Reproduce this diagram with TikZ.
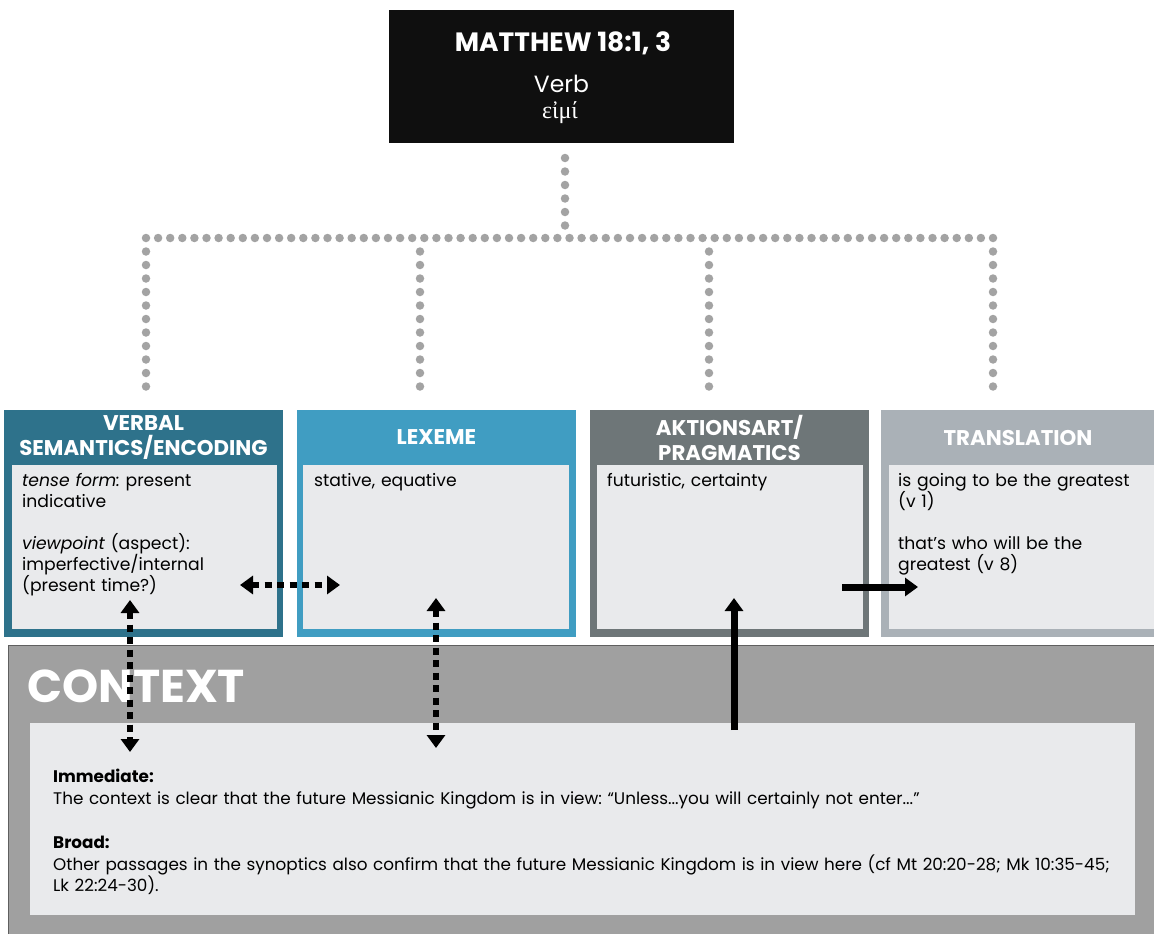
\documentclass[tikz,border=0pt]{standalone}
\usepackage{fontspec}
\setmainfont{Poppins}
\newfontfamily\greekfont{Liberation Serif}
\usetikzlibrary{arrows.meta}
\frenchspacing

\definecolor{semcol}{RGB}{46,114,139}
\definecolor{lexcol}{RGB}{64,157,194}
\definecolor{aktcol}{RGB}{110,118,120}
\definecolor{trncol}{RGB}{170,177,183}
\definecolor{panel}{RGB}{233,234,236}
\definecolor{ctxcol}{RGB}{160,160,160}
\definecolor{ctxedge}{RGB}{95,95,95}
\definecolor{topcol}{RGB}{15,15,15}
\definecolor{treecol}{RGB}{163,163,163}

\tikzset{
  outerbox/.style={anchor=north west, inner sep=0pt, minimum height=227pt},
  innerbox/.style={anchor=north west, inner sep=0pt, fill=panel, minimum height=164pt},
  headtxt/.style={text=white, font=\fontsize{21.3}{25}\selectfont\bfseries, align=center, inner sep=0pt},
  bodytxt/.style={anchor=north west, inner sep=0pt, align=left, font=\fontsize{17.2}{21}\selectfont},
  treevert/.style={draw=treecol, line width=8.5pt, line cap=round, dash pattern=on 0pt off 13.5pt},
  treehorz/.style={draw=treecol, line width=8.5pt, line cap=round, dash pattern=on 0pt off 12.1pt},
  dotarrow/.style={draw=black, line width=6.5pt, dash pattern=on 7pt off 5.5pt,
    {Triangle[width=18pt,length=13pt]}-{Triangle[width=18pt,length=13pt]}},
  solidarrow/.style={draw=black, line width=7pt, -{Triangle[width=18pt,length=13pt]}},
}

\begin{document}
\begin{tikzpicture}[x=1pt,y=-1pt]
\useasboundingbox (0,0) rectangle (1154,934);

% title block
\node[fill=topcol, anchor=north west, minimum width=345pt, minimum height=133pt, inner sep=0pt] (top) at (389,10) {};
\node[text=white, font=\fontsize{26.5}{30}\selectfont\bfseries, inner sep=0pt] (ttl) at (563,43) {MATTHEW 18:1, 3};
\node[text=white, font=\fontsize{23.5}{26}\selectfont, inner sep=0pt] (vrb) at (561.5,84) {Verb};
\node[text=white, font=\fontsize{24}{26}\selectfont\greekfont, inner sep=0pt] (grk) at (560,113) {εἰμί};

% the four category boxes
\node[outerbox, fill=semcol, minimum width=279pt] (b1) at (4,410) {};
\node[outerbox, fill=lexcol, minimum width=279pt] (b2) at (297,410) {};
\node[outerbox, fill=aktcol, minimum width=279pt] (b3) at (590,410) {};
\node[outerbox, fill=trncol, minimum width=280pt] (b4) at (881,410) {};

\node[innerbox, minimum width=265pt] (p1) at (12,465) {};
\node[innerbox, minimum width=266pt] (p2) at (303,465) {};
\node[innerbox, minimum width=266pt] (p3) at (597,465) {};
\node[innerbox, minimum width=270pt] (p4) at (889,465) {};

\node[headtxt] (h1) at (143.5,437.5) {VERBAL\\SEMANTICS/ENCODING};
\node[headtxt] (h2) at (436.5,437.5) {LEXEME};
\node[headtxt] (h3) at (729.5,437.5) {AKTIONSART/\\PRAGMATICS};
\node[headtxt] (h4) at (1018,437.5) {TRANSLATION};

\node[bodytxt, text width=255pt] (t1) at (22,473)
  {\textit{tense form:} present\\indicative\\[21pt]\textit{viewpoint} (aspect):\\imperfective/internal\\(present time?)};
\node[bodytxt, text width=255pt] (t2) at (314,473) {stative, equative};
\node[bodytxt, text width=255pt] (t3) at (607,473) {futuristic, certainty};
\node[bodytxt, text width=262pt] (t4) at (898,473)
  {is going to be the greatest\\(v 1)\\[21pt]that’s who will be the\\greatest (v 8)};

% context panel
\node[anchor=north west, fill=ctxcol, draw=ctxedge, line width=1.2pt, minimum width=1150pt, minimum height=292pt, inner sep=0pt] (ctx) at (8,645) {};
\node[anchor=west, text=white, font=\fontsize{46}{50}\selectfont\bfseries, inner sep=0pt] (ctxlbl) at (27,686) {CONTEXT};
\node[anchor=north west, fill=panel, minimum width=1105pt, minimum height=192pt, inner sep=0pt] (ctxin) at (30,723) {};
\node[anchor=north west, inner sep=0pt, align=left, font=\fontsize{16.8}{21.5}\selectfont, text width=1075pt] (ctxtxt) at (53,769)
  {\textbf{Immediate:}\\
   The context is clear that the future Messianic Kingdom is in view: “Unless...you will certainly not enter...”\\[23pt]
   \textbf{Broad:}\\
   Other passages in the synoptics also confirm that the future Messianic Kingdom is in view here (cf Mt 20:20-28; Mk 10:35-45;\\
   Lk 22:24-30).};

% dotted tree from the title block to the four boxes
\coordinate (tA) at (565,158);
\coordinate (tB) at (565,238);
\coordinate (j1) at (146,238);
\coordinate (j2) at (420,238);
\coordinate (j3) at (709,238);
\coordinate (j4) at (993,238);
\coordinate (e1) at (146,398);
\coordinate (e2) at (420,398);
\coordinate (e3) at (709,398);
\coordinate (e4) at (993,398);
\draw[treevert] (tA) -- (tB);
\draw[treehorz] (j1) -- (j4);
\draw[treevert] (j1) ++(0,13.5) -- (e1);
\draw[treevert] (j2) ++(0,13.5) -- (e2);
\draw[treevert] (j3) ++(0,13.5) -- (e3);
\draw[treevert] (j4) ++(0,13.5) -- (e4);

% relations between the boxes and the context
\coordinate (a1) at (240,585);
\coordinate (a2) at (340,585);
\coordinate (v1a) at (130,600);
\coordinate (v1b) at (130,752);
\coordinate (v2a) at (436,598);
\coordinate (v2b) at (436,748);
\coordinate (s1a) at (734,730);
\coordinate (s1b) at (734,598);
\coordinate (s2a) at (842,587);
\coordinate (s2b) at (918,587);
\draw[dotarrow] (a1) -- (a2);
\draw[dotarrow] (v1a) -- (v1b);
\draw[dotarrow] (v2a) -- (v2b);
\draw[solidarrow] (s1a) -- (s1b);
\draw[solidarrow] (s2a) -- (s2b);
\end{tikzpicture}
\end{document}
